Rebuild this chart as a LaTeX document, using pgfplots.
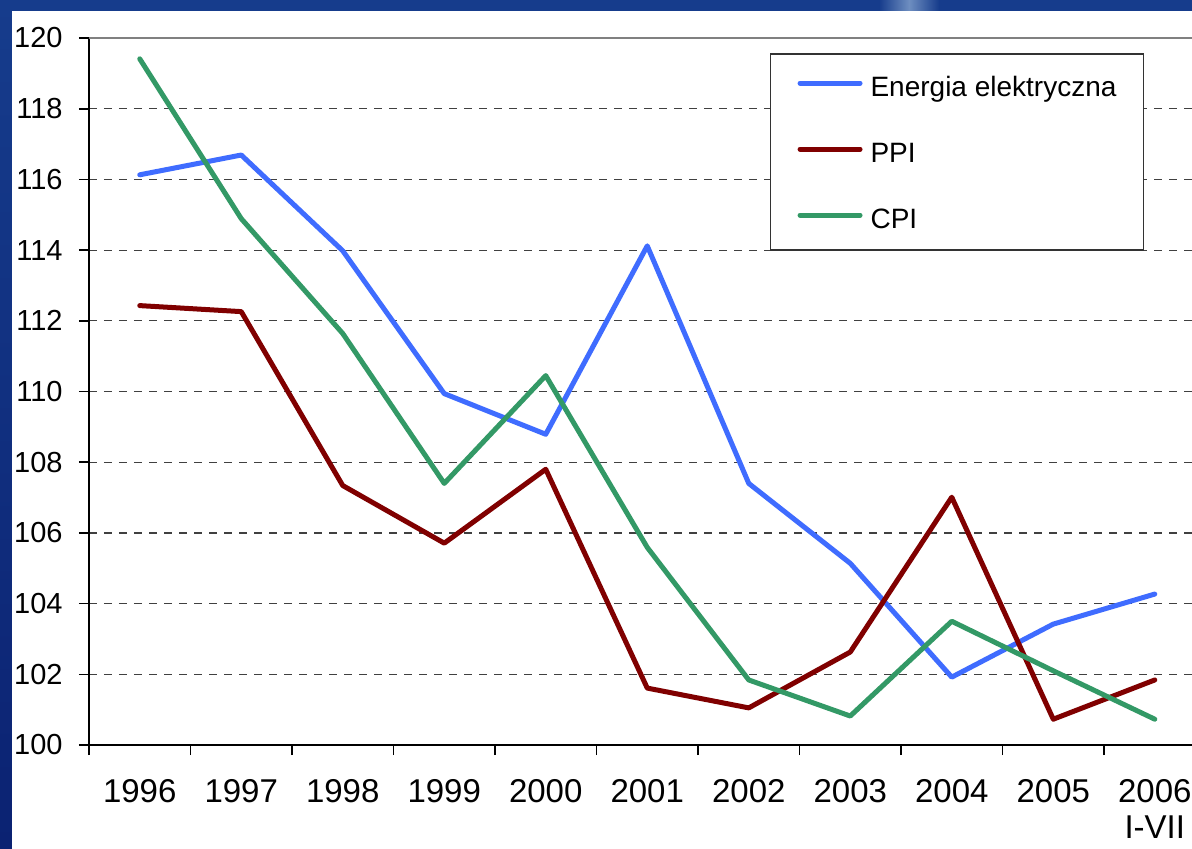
\documentclass[border=0pt]{standalone}
\usepackage{fontspec}
\setmainfont{Liberation Sans}
\usepackage{pgfplots}
\pgfplotsset{compat=1.18}
\definecolor{eblue}{HTML}{3F6CFF}
\definecolor{ppired}{HTML}{800000}
\definecolor{cpigreen}{HTML}{339966}
\definecolor{bgdark}{HTML}{0B2272}
\definecolor{bgtop}{HTML}{163C8C}
\definecolor{bgstreak}{HTML}{6E8EC0}
\begin{document}
\begin{tikzpicture}
\path[use as bounding box, clip] (-44.5pt,-51.5pt) rectangle (551.5pt,372.5pt);
\fill[bgtop] (-44.5pt,-51.5pt) rectangle (551.5pt,372.5pt);
\shade[left color=bgtop, right color=bgtop, middle color=bgstreak] (395pt,367pt) rectangle (425pt,372.5pt);
\shade[top color=bgtop, bottom color=bgdark] (-44.5pt,-51.5pt) rectangle (-38.5pt,372.5pt);
\fill[white] (-38.5pt,-51.5pt) rectangle (551.5pt,367pt);
\begin{axis}[
  at={(0pt,0pt)}, anchor=south west, scale only axis,
  width=558.25pt, height=353.5pt,
  xmin=-0.5, xmax=10.5, ymin=100, ymax=120,
  axis x line*=bottom, axis y line*=left,
  axis line style={black, line width=0.8pt},
  tick style={black, line width=0.8pt},
  tick align=outside, major tick length=5pt,
  xtick={-0.5,0.5,1.5,2.5,3.5,4.5,5.5,6.5,7.5,8.5,9.5,10.5},
  x tick label as interval,
  xticklabels={1996,1997,1998,1999,2000,2001,2002,2003,2004,2005,{\begin{tabular}[t]{@{}c@{}}2006\\[0.5pt]I-VII\end{tabular}}},
  xticklabel style={font=\fontsize{16.5}{17.5}\selectfont, inner sep=0pt, text height=11.8pt, text depth=0pt, yshift=-11.5pt},
  ytick={100,102,...,118},
  extra y ticks={120},
  extra y tick style={grid style={solid, black!50, line width=0.9pt}},
  yticklabel style={font=\fontsize{14.5}{16}\selectfont, inner sep=0pt, xshift=-8pt},
  /pgf/number format/assume math mode=true,
  ymajorgrids,
  grid style={dashed, dash pattern=on 4pt off 3.5pt, black!75, line width=0.6pt},
  legend style={at={(0.6099,0.9781)}, anchor=north west, draw=black!80, line width=0.6pt,
    inner xsep=13.5pt, inner ysep=11pt, row sep=23pt, column sep=4pt,
    font=\fontsize{14}{16}\selectfont,
    nodes={inner sep=0pt, text height=10pt, text depth=0pt}},
  legend cell align=left,
  legend image code/.code={\draw[#1, line width=2.5pt, line cap=round] (0pt,1.5pt) -- (30pt,1.5pt);},
  every axis plot/.append style={line width=2.5pt, line join=round, line cap=round},
]
\addplot[eblue] coordinates {(0,116.13) (1,116.69) (2,113.98) (3,109.94) (4,108.79) (5,114.12) (6,107.40) (7,105.14) (8,101.92) (9,103.42) (10,104.27)};
\addlegendentry{Energia elektryczna}
\addplot[ppired] coordinates {(0,112.43) (1,112.26) (2,107.34) (3,105.71) (4,107.80) (5,101.61) (6,101.05) (7,102.63) (8,107.01) (9,100.73) (10,101.84)};
\addlegendentry{PPI}
\addplot[cpigreen] coordinates {(0,119.41) (1,114.89) (2,111.64) (3,107.40) (4,110.45) (5,105.59) (6,101.84) (7,100.82) (8,103.50) (9,102.10) (10,100.73)};
\addlegendentry{CPI}
\end{axis}
\end{tikzpicture}
\end{document}
